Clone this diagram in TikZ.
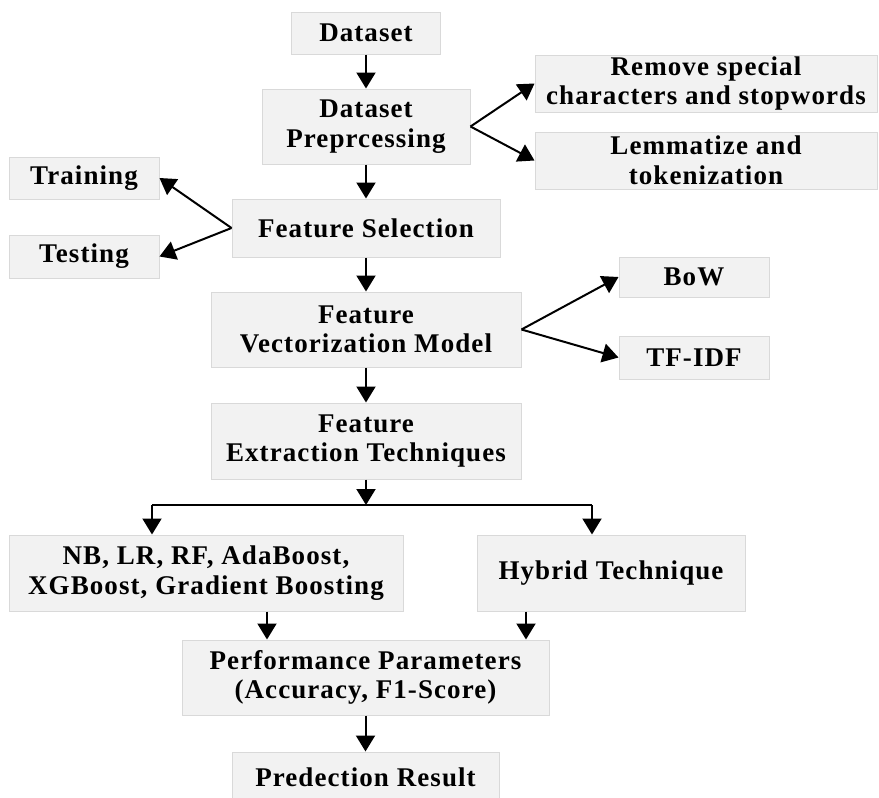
\documentclass[tikz,border=0pt]{standalone}
\usepackage{fontspec}
\setmainfont{Liberation Serif}[LetterSpace=4]
\usetikzlibrary{calc,positioning,shapes,arrows.meta}

\begin{document}
\begin{tikzpicture}[x=1pt, y=-1pt,
    box/.style={draw=black!15, fill=black!5, line width=1pt, inner sep=0pt,
        align=center, font=\fontsize{27}{29.5}\selectfont\bfseries},
    arr/.style={line width=2pt, -{Triangle[length=16pt,width=19pt]}}]

    \useasboundingbox (0,0) rectangle (879,798);

    % main column
    \node[box, minimum width=149pt, minimum height=42pt] (data) at (366,33) {Dataset};
    \node[box, minimum width=208pt, minimum height=75pt] (prep) at (366,126.5) {Dataset\\Preprcessing};
    \node[box, minimum width=268pt, minimum height=58pt] (fsel) at (366,228) {Feature Selection};
    \node[box, minimum width=310pt, minimum height=75pt] (vect) at (366,329.5) {Feature\\Vectorization Model};
    \node[box, minimum width=310pt, minimum height=76pt] (fext) at (366,441) {Feature\\Extraction Techniques};

    % side boxes
    \node[box, minimum width=342pt, minimum height=57pt] (remove) at (706,83.5) {Remove special\\characters and stopwords};
    \node[box, minimum width=342pt, minimum height=57pt] (lemma) at (706,160.5) {Lemmatize and\\tokenization};
    \node[box, minimum width=150pt, minimum height=42pt] (train) at (84,178) {Training};
    \node[box, minimum width=150pt, minimum height=43pt] (test) at (84,256.5) {Testing};
    \node[box, minimum width=150pt, minimum height=40pt] (bow) at (694,277) {BoW};
    \node[box, minimum width=150pt, minimum height=43pt] (tfidf) at (694,357.5) {TF-IDF};

    % classifiers and results
    \node[box, minimum width=394pt, minimum height=76pt] (clf) at (206,573) {NB, LR, RF, AdaBoost,\\XGBoost, Gradient Boosting};
    \node[box, minimum width=268pt, minimum height=76pt] (hyb) at (611,573) {Hybrid Technique};
    \node[box, minimum width=367pt, minimum height=75pt] (perf) at (365.5,677.5) {Performance Parameters\\(Accuracy, F1-Score)};
    \node[box, minimum width=267pt, minimum height=50pt] (pred) at (365.5,777) {Predection Result};

    % arrows
    \draw[arr] (data) -- (prep);
    \draw[arr] (prep) -- (fsel);
    \draw[arr] (fsel) -- (vect);
    \draw[arr] (vect) -- (fext);
    \draw[arr] (prep.east) -- (remove.west);
    \draw[arr] (prep.east) -- (lemma.west);
    \draw[arr] (fsel.west) -- (train.east);
    \draw[arr] (fsel.west) -- (test.east);
    \draw[arr] (vect.east) -- (bow.west);
    \draw[arr] (vect.east) -- (tfidf.west);

    \coordinate (split) at (366,505);
    \coordinate (jl) at (152,505);
    \coordinate (jr) at (592,505);
    \draw[arr] (fext) -- (split);
    \draw[line width=2pt] (jl) -- (jr);
    \draw[arr] (jl) -- (jl |- clf.north);
    \draw[arr] (jr) -- (jr |- hyb.north);

    \coordinate (c1) at ([xshift=61pt]clf.south);
    \coordinate (c2) at ([xshift=-85pt]hyb.south);
    \draw[arr] (c1) -- (c1 |- perf.north);
    \draw[arr] (c2) -- (c2 |- perf.north);
    \draw[arr] (perf) -- (pred);
\end{tikzpicture}
\end{document}
